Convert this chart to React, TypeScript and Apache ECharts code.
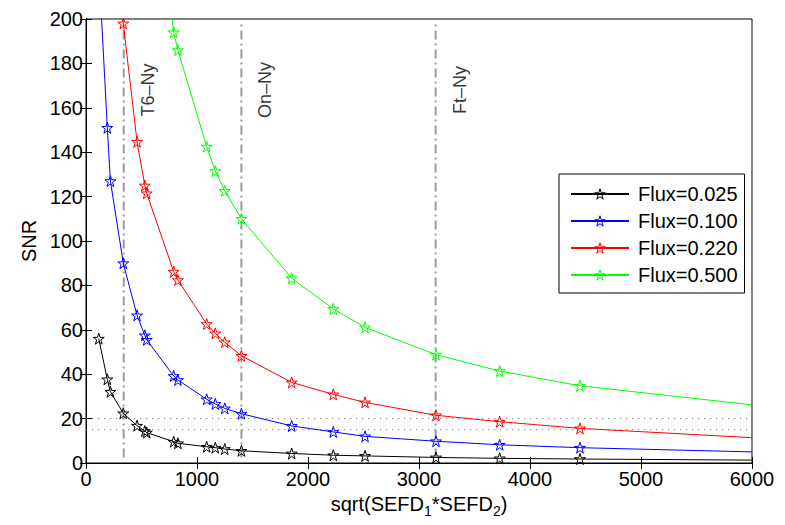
import React, { useEffect, useRef } from "react";
import * as echarts from "echarts";

// Baseline length sqrt(SEFD1*SEFD2) at each computed point (last point = curve end, no marker)
const xs = [115, 192, 220, 336, 460, 530, 547, 790, 828, 1087, 1165, 1250, 1400, 1853, 2228, 2514, 3153, 3727, 4450, 6000];
const snr025 = [56, 37.7, 32.1, 22.4, 16.8, 14.4, 13.7, 9.6, 8.9, 7.3, 6.9, 6.3, 5.5, 4.3, 3.5, 3.2, 2.5, 2.1, 1.8, 1.3];
const snr100 = [224, 151, 127, 90, 66.5, 57.5, 55.5, 39.2, 37.4, 28.7, 26.6, 24.6, 22.2, 16.7, 14.0, 12.0, 9.8, 8.2, 6.9, 5.0];
const snr220 = [596, 357, 312, 198, 144.7, 125, 121.5, 86.2, 82.4, 62.6, 58.4, 54.4, 48.3, 36.3, 30.9, 27.3, 21.5, 18.6, 15.6, 11.4];
const snr500 = [1355, 811, 708, 464, 339, 294, 285, 194, 186, 142.5, 131.5, 122.6, 110, 83.2, 69.4, 61.1, 48.8, 41.4, 34.8, 26.2];
const seriesNames = ["Flux=0.025", "Flux=0.100", "Flux=0.220", "Flux=0.500"];
const seriesColors = ["#000000", "#0000ff", "#ff0000", "#00ff00"];

const baselineNames = ["T6–Ny", "On–Ny", "Ft–Ny"];
const baselineX = [340, 1400, 3150];
const thresholds = [20, 15];

const xTicks = { min: 0, max: 6000, interval: 1000 };
const yTicks = { min: 0, max: 200, interval: 20 };

const STAR =
  "path://M50 0 L61.23 34.55 L97.55 34.55 L68.17 55.9 L79.39 90.45 L50 69.1 L20.61 90.45 L31.83 55.9 L2.45 34.55 L38.77 34.55 Z";
const FONT = "Liberation Sans";
const HOLLOW = "rgba(255,255,255,0)";

export default function App() {
  const ref = useRef<HTMLDivElement>(null);
  useEffect(() => {
    if (!ref.current) return;
    const chart = echarts.init(ref.current, undefined, { renderer: "svg" });
    const allY = [snr025, snr100, snr220, snr500];
    const dataSeries = allY.map((ys, k) => ({
      name: seriesNames[k],
      type: "line",
      data: xs.map((x, i) =>
        i === xs.length - 1 ? { value: [x, ys[i]], symbol: "none" } : [x, ys[i]]
      ),
      symbol: STAR,
      symbolSize: 11,
      showAllSymbol: true,
      clip: true,
      z: 3,
      lineStyle: { color: seriesColors[k], width: 1 },
      itemStyle: { color: HOLLOW, borderColor: seriesColors[k], borderWidth: 1 },
      emphasis: { disabled: true },
    }));
    const vlines = baselineX.map((x) => ({
      type: "line",
      data: [
        [x, 2.5],
        [x, 197.5],
      ],
      symbol: "none",
      silent: true,
      z: 2,
      lineStyle: { color: "#9a9a9a", width: 2, type: [9, 4, 2, 4] },
    }));
    const hlines = thresholds.map((y) => ({
      type: "line",
      data: [
        [0, y],
        [6000, y],
      ],
      symbol: "none",
      silent: true,
      z: 1,
      lineStyle: { color: "#777", width: 1, type: [1.2, 4.8] },
    }));
    const labels = {
      type: "scatter",
      data: baselineX.map((x, i) => ({ value: [x, 168], name: baselineNames[i] })),
      symbolSize: 0,
      silent: true,
      label: {
        show: true,
        formatter: (p: any) => p.name,
        position: "inside",
        rotate: 90,
        offset: [0, 24],
        fontSize: 18,
        fontFamily: FONT,
        color: "#000",
      },
    };
    chart.setOption({
      animation: false,
      textStyle: { fontFamily: FONT },
      grid: {
        left: 86,
        right: 33,
        top: 19,
        bottom: 62,
        show: true,
        borderColor: "#000",
        borderWidth: 1,
        backgroundColor: "#fff",
      },
      legend: {
        data: seriesNames.map((n, i) => ({
          name: n,
          itemStyle: { color: HOLLOW, borderColor: seriesColors[i], borderWidth: 1 },
        })),
        orient: "vertical",
        left: 559,
        top: 174,
        padding: [10, 7, 8, 11],
        itemWidth: 58,
        itemHeight: 13,
        itemGap: 7,
        borderColor: "#000",
        borderWidth: 1,
        backgroundColor: "#fff",
        textStyle: { fontSize: 20, fontFamily: FONT, color: "#000", padding: [0, 0, 0, 4] },
      },
      xAxis: [
        {
          type: "value",
          ...xTicks,
          position: "bottom",
          name: "sqrt(SEFD{s|1}*SEFD{s|2})",
          nameLocation: "middle",
          nameGap: 27,
          nameTextStyle: {
            fontSize: 20,
            fontFamily: FONT,
            color: "#000",
            rich: {
              s: { fontSize: 14, fontFamily: FONT, color: "#000", padding: [14, 0, 0, 0] },
            },
          },
          axisLine: { show: true, lineStyle: { color: "#000" } },
          axisTick: { show: true, inside: true, length: 6, lineStyle: { color: "#000" } },
          axisLabel: {
            fontSize: 20,
            fontFamily: FONT,
            color: "#000",
            margin: 6,
            formatter: (v: number) => String(v),
          },
          splitLine: { show: false },
        },
        {
          type: "value",
          ...xTicks,
          position: "top",
          axisLine: { show: true, lineStyle: { color: "#000" } },
          axisTick: { show: true, inside: true, length: 6, lineStyle: { color: "#000" } },
          axisLabel: { show: false },
          splitLine: { show: false },
        },
      ],
      yAxis: [
        {
          type: "value",
          ...yTicks,
          position: "left",
          name: "SNR",
          nameLocation: "middle",
          nameGap: 46,
          nameTextStyle: { fontSize: 20, fontFamily: FONT, color: "#000" },
          axisLine: { show: true, lineStyle: { color: "#000" } },
          axisTick: { show: true, inside: true, length: 6, lineStyle: { color: "#000" } },
          axisLabel: { fontSize: 20, fontFamily: FONT, color: "#000", margin: 3 },
          splitLine: { show: false },
        },
        {
          type: "value",
          ...yTicks,
          position: "right",
          axisLine: { show: true, lineStyle: { color: "#000" } },
          axisTick: { show: true, inside: true, length: 6, lineStyle: { color: "#000" } },
          axisLabel: { show: false },
          splitLine: { show: false },
        },
      ],
      series: [...hlines, ...vlines, ...dataSeries, labels],
    });
    return () => chart.dispose();
  }, []);
  return <div ref={ref} style={{ width: 785, height: 525, position: "absolute", left: 0, top: 0 }} />;
}
